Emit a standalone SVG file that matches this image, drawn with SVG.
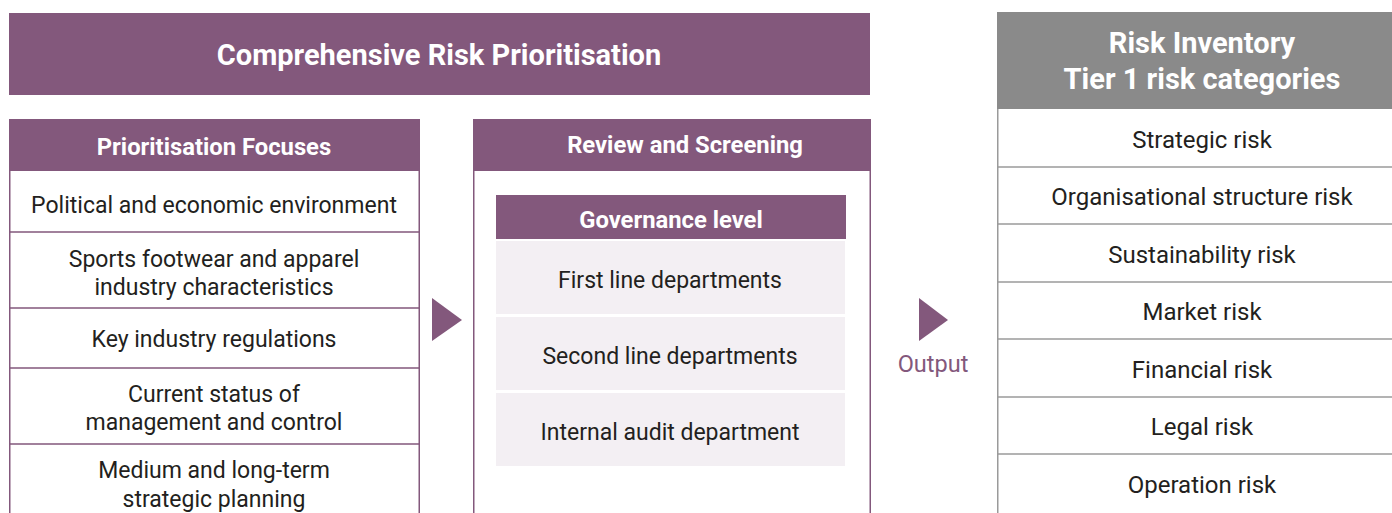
<svg xmlns="http://www.w3.org/2000/svg" width="1392" height="513" viewBox="0 0 1392 513">
<style>
.pur{fill:#83587c}
.gry{fill:#8a8a8a}
.pink{fill:#f3eff3}
.ln{stroke:#83587c;stroke-width:1.5;fill:none}
.gl{stroke:#9a9a9a;stroke-width:1.5;fill:none}
text{font-family:Roboto,"Liberation Sans",sans-serif;text-anchor:middle}
.t{font-size:23px;fill:#231f20}
.r{font-size:24px;fill:#231f20}
.h{font-size:23.8px;font-weight:bold;fill:#ffffff}
.big{font-size:29px;font-weight:bold;fill:#ffffff}
.out{font-size:23.5px;fill:#83587c}
</style>
<rect width="1392" height="513" fill="#ffffff"/>
<g id="title">
<rect class="pur" x="9" y="13" width="861" height="82"/>
<text class="big" x="439" y="65">Comprehensive Risk Prioritisation</text>
</g>
<g id="focuses">
<rect class="pur" x="9" y="119" width="411" height="52"/>
<text class="h" x="214" y="155">Prioritisation Focuses</text>
<path class="ln" d="M9.75,171 V513 M419.25,171 V513 M9,232 H420 M9,308 H420 M9,368 H420 M9,444 H420"/>
<text class="t" x="214" y="213">Political and economic environment</text>
<text class="t" x="214" y="267">Sports footwear and apparel</text>
<text class="t" x="214" y="295">industry characteristics</text>
<text class="t" x="214" y="347">Key industry regulations</text>
<text class="t" x="214" y="402">Current status of</text>
<text class="t" x="214" y="430">management and control</text>
<text class="t" x="214" y="478">Medium and long-term</text>
<text class="t" x="214" y="507">strategic planning</text>
</g>
<g id="review">
<rect class="pur" x="473" y="119" width="398" height="52"/>
<text class="h" x="685" y="153">Review and Screening</text>
<path class="ln" d="M473.75,171 V513 M870.25,171 V513"/>
</g>
<g id="governance">
<rect class="pur" x="496" y="195" width="350" height="44"/>
<text class="h" x="671" y="228">Governance level</text>
<rect class="pink" x="496" y="241" width="349" height="73"/>
<rect class="pink" x="496" y="317" width="349" height="73"/>
<rect class="pink" x="496" y="393" width="349" height="73"/>
<text class="t" x="670" y="288">First line departments</text>
<text class="t" x="670" y="364">Second line departments</text>
<text class="t" x="670" y="440">Internal audit department</text>
</g>
<g id="inventory">
<rect class="gry" x="997" y="12" width="395" height="97"/>
<text class="big" x="1202" y="53">Risk Inventory</text>
<text class="big" x="1202" y="89">Tier 1 risk categories</text>
<path class="gl" d="M997.75,109 V513 M997,167 H1392 M997,224 H1392 M997,282 H1392 M997,339 H1392 M997,397 H1392 M997,454 H1392"/>
<text class="r" x="1202" y="148">Strategic risk</text>
<text class="r" x="1202" y="205">Organisational structure risk</text>
<text class="r" x="1202" y="263">Sustainability risk</text>
<text class="r" x="1202" y="320">Market risk</text>
<text class="r" x="1202" y="378">Financial risk</text>
<text class="r" x="1202" y="435">Legal risk</text>
<text class="r" x="1202" y="493">Operation risk</text>
</g>
<g id="connectors">
<polygon class="pur" points="432,298 462,320 432,341"/>
<polygon class="pur" points="919,298 948,320 919,341"/>
<text class="out" x="933" y="372">Output</text>
</g>
</svg>
